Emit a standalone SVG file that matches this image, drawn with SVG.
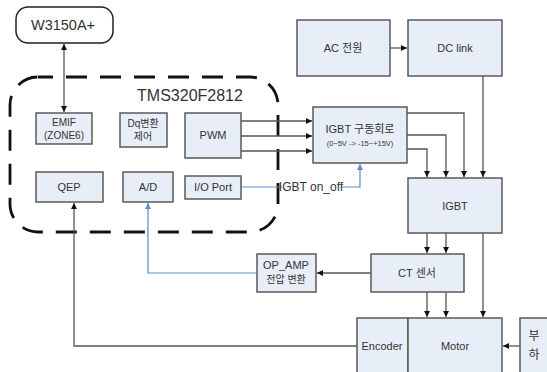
<svg xmlns="http://www.w3.org/2000/svg" width="547" height="372" viewBox="0 0 547 372">
<style>
.box{fill:#e8eef8;stroke:#595959;stroke-width:1.5}
.t{font-family:"Liberation Sans","Noto Sans CJK KR",sans-serif;fill:#333;text-anchor:middle}
.c{fill:none;stroke:#555;stroke-width:1.3}
.b{fill:none;stroke:#5b8ad0;stroke-width:1.2}
</style>
<defs>
<marker id="a" viewBox="0 0 10 10" refX="10" refY="5" markerWidth="6" markerHeight="6" orient="auto-start-reverse" markerUnits="userSpaceOnUse"><path d="M0,0L10,5L0,10z" fill="#111"/></marker>
<marker id="ab" viewBox="0 0 10 10" refX="10" refY="5" markerWidth="6" markerHeight="6" orient="auto" markerUnits="userSpaceOnUse"><path d="M0,0L10,5L0,10z" fill="#5b8ad0"/></marker>
</defs>
<rect x="10" y="77" width="268" height="155" rx="28" fill="none" stroke="#111" stroke-width="2.8" stroke-dasharray="21 13" stroke-dashoffset="6"/>
<text class="t" x="190" y="101" style="font-size:16px">TMS320F2812</text>
<g id="connectors">
<path class="c" d="M64,44V112" stroke="#111" marker-start="url(#a)" marker-end="url(#a)"/>
<path class="c" d="M390,48H407" marker-end="url(#a)"/>
<path class="c" d="M241,121H312" marker-end="url(#a)"/>
<path class="c" d="M241,136H312" marker-end="url(#a)"/>
<path class="c" d="M241,151H312" marker-end="url(#a)"/>
<path class="b" d="M241,187H282"/>
<path class="b" d="M341,187H360V164" marker-end="url(#ab)"/>
<path class="c" d="M407,113H464V177" marker-end="url(#a)"/>
<path class="c" d="M407,135H446V177" marker-end="url(#a)"/>
<path class="c" d="M407,149H427V177" marker-end="url(#a)"/>
<path class="c" d="M483,76V177" marker-end="url(#a)"/>
<path class="c" d="M427,233V253" marker-end="url(#a)"/>
<path class="c" d="M446,233V253" marker-end="url(#a)"/>
<path class="c" d="M483,233V317" marker-end="url(#a)"/>
<path class="c" d="M427,292V317" marker-end="url(#a)"/>
<path class="c" d="M446,292V317" marker-end="url(#a)"/>
<path class="c" d="M371,273H317" marker-end="url(#a)"/>
<path class="b" d="M257,273H148V203" marker-end="url(#ab)"/>
<path class="c" d="M357,346H74V203" marker-end="url(#a)"/>
<path class="c" d="M520,346H503" marker-end="url(#a)"/>
</g>
<text class="t" x="311" y="191" style="font-size:12px">IGBT on_off</text>
<g id="w3150"><rect x="16" y="7" width="97" height="36" rx="12" fill="#fff" stroke="#222" stroke-width="1.5"/><text class="t" x="63" y="30" style="font-size:14.5px">W3150A+</text></g>
<g id="emif"><rect class="box" x="36" y="113" width="56" height="31"/><text class="t" x="64" y="126" style="font-size:10px">EMIF</text><text class="t" x="64" y="139" style="font-size:10px">(ZONE6)</text></g>
<g id="dq"><rect class="box" x="120" y="113" width="47" height="34"/><text class="t" x="143" y="127" style="font-size:10px">Dq변환</text><text class="t" x="143" y="140" style="font-size:10px">제어</text></g>
<g id="pwm"><rect class="box" x="185" y="113" width="56" height="45"/><text class="t" x="213" y="139" style="font-size:11px">PWM</text></g>
<g id="qep"><rect class="box" x="36" y="172" width="67" height="30"/><text class="t" x="69" y="191" style="font-size:11px">QEP</text></g>
<g id="ad"><rect class="box" x="123" y="172" width="50" height="30"/><text class="t" x="148" y="191" style="font-size:11px">A/D</text></g>
<g id="io"><rect class="box" x="185" y="176" width="56" height="23"/><text class="t" x="213" y="191" style="font-size:11px">I/O Port</text></g>
<g id="ac"><rect class="box" x="297" y="20" width="93" height="56"/><text class="t" x="343" y="52" style="font-size:11px">AC 전원</text></g>
<g id="dclink"><rect class="box" x="408" y="20" width="94" height="56"/><text class="t" x="455" y="52" style="font-size:11px">DC link</text></g>
<g id="driver"><rect class="box" x="313" y="107" width="94" height="56"/><text class="t" x="360" y="133" style="font-size:11px">IGBT 구동회로</text><text class="t" x="360" y="146" style="font-size:7.5px">(0~5V -&gt; -15~+15V)</text></g>
<g id="igbt"><rect class="box" x="408" y="178" width="94" height="55"/><text class="t" x="455" y="210" style="font-size:11px">IGBT</text></g>
<g id="ct"><rect class="box" x="371" y="254" width="93" height="38"/><text class="t" x="417" y="277" style="font-size:11px">CT 센서</text></g>
<g id="opamp"><rect class="box" x="257" y="254" width="59" height="38"/><text class="t" x="286" y="269" style="font-size:11px">OP_AMP</text><text class="t" x="286" y="283" style="font-size:10px">전압 변환</text></g>
<g id="encoder"><rect class="box" x="357" y="318" width="51" height="60"/><text class="t" x="382" y="350" style="font-size:11px">Encoder</text></g>
<g id="motor"><rect class="box" x="408" y="318" width="94" height="60"/><text class="t" x="455" y="350" style="font-size:11px">Motor</text></g>
<g id="load"><rect class="box" x="520" y="318" width="40" height="60"/><text class="t" x="534" y="340" style="font-size:12px">부</text><text class="t" x="534" y="359" style="font-size:12px">하</text></g>
</svg>
